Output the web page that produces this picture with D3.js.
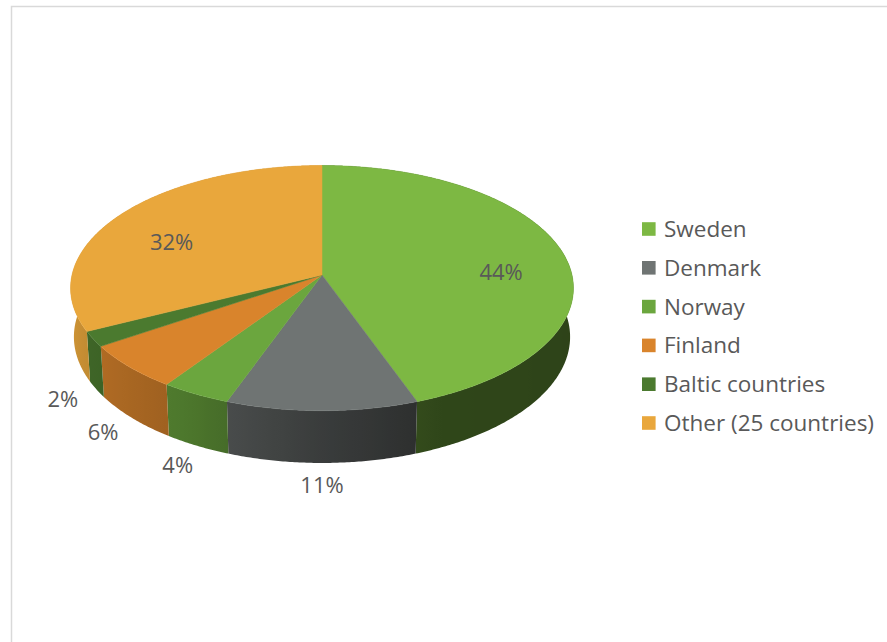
<!DOCTYPE html>
<html>
<head>
<meta charset="utf-8">
<script src="https://cdn.jsdelivr.net/npm/d3@7"></script>
<style>
  html, body { margin: 0; padding: 0; background: #fff; }
  svg { display: block; }
  text { font-family: "Open Sans", "Noto Sans", sans-serif; fill: #595959; }
</style>
</head>
<body>
<script>
// Share of exports by destination, in percent
const categories = ["Sweden", "Denmark", "Norway", "Finland", "Baltic countries", "Other (25 countries)"];
const shares = [44, 11, 4, 6, 2, 32];
const shareLabels = ["44%", "11%", "4%", "6%", "2%", "32%"];
const topColors = ["#7db843", "#6f7473", "#6ba63e", "#d9842c", "#4b7a2f", "#e9a73c"];
// labels of the two large slices sit on the top face, the rest outside the rim
const labelInside = [true, false, false, false, false, true];

const W = 887, H = 642;
const svg = d3.select("body").append("svg").attr("width", W).attr("height", H);
const defs = svg.append("defs");

// chart frame
svg.append("rect")
  .attr("x", 11.5).attr("y", 6.5)
  .attr("width", W + 20).attr("height", H + 20)
  .attr("fill", "none").attr("stroke", "#d9d9d9").attr("stroke-width", 1.5);

// perspective camera for a unit-radius disc of height `thick`
const cam = { cx: 322, cy: 275, f: 2050, d0: 8.2, tilt: 29 * Math.PI / 180, thick: 0.225 };
const sT = Math.sin(cam.tilt), cT = Math.cos(cam.tilt);
function project(r, theta, h) {
  const X = r * Math.sin(theta), Z = -r * Math.cos(theta);
  const up = -h * cT + Z * sT;
  const depth = cam.d0 - h * sT - Z * cT;
  return [cam.cx + cam.f * X / depth, cam.cy + cam.f * up / depth, depth];
}

const arcs = d3.pie().sort(null).value(d => d)(shares);

// side walls get darker toward the right-hand side
const shade = d3.scaleLinear()
  .domain([90, 155, 180, 210, 270])
  .range([0.36, 0.38, 0.52, 0.72, 0.93])
  .clamp(true);
function scaleColor(c, k) {
  const col = d3.rgb(c);
  return d3.rgb(col.r * k, col.g * k, col.b * k).formatHex();
}

const deg = Math.PI / 180;
const step = Math.PI / 360;
const line = d3.line();
const rimX0 = project(1, 264 * deg, 0)[0], rimX1 = project(1, 96 * deg, 0)[0];

function arcPoints(r, a0, a1, h) {
  const n = Math.max(2, Math.ceil((a1 - a0) / step));
  return d3.range(n + 1).map(j => project(r, a0 + (a1 - a0) * j / n, h));
}

// side walls: one band per slice, shaded with a horizontal gradient
const sides = svg.append("g");
arcs.forEach((a, i) => {
  const id = "side" + i;
  const g = defs.append("linearGradient").attr("id", id)
    .attr("gradientUnits", "userSpaceOnUse")
    .attr("x1", rimX0).attr("x2", rimX1).attr("y1", 0).attr("y2", 0);
  const lo = Math.max(a.startAngle, 96 * deg), hi = Math.min(a.endAngle, 264 * deg);
  const stops = [];
  if (hi > lo) {
    for (let t = hi; t >= lo - 1e-9; t -= 2 * deg) stops.push(t);
    if (stops[stops.length - 1] > lo) stops.push(lo);
  } else {
    stops.push((a.startAngle + a.endAngle) / 2);
  }
  stops.forEach(t => {
    const x = project(1, t, 0)[0];
    g.append("stop")
      .attr("offset", Math.min(1, Math.max(0, (x - rimX0) / (rimX1 - rimX0))))
      .attr("stop-color", scaleColor(topColors[i], shade(t / deg)));
  });
  const top = arcPoints(1, a.startAngle, a.endAngle, 0);
  const bottom = arcPoints(1, a.startAngle, a.endAngle, -cam.thick).reverse();
  sides.append("path")
    .attr("d", line(top.concat(bottom).map(p => [p[0], p[1]])) + "Z")
    .attr("fill", `url(#${id})`);
});

// top faces
svg.append("g").selectAll("path").data(arcs).join("path")
  .attr("d", a => {
    const pts = [project(0, 0, 0)].concat(arcPoints(1, a.startAngle, a.endAngle, 0));
    return line(pts.map(p => [p[0], p[1]])) + "Z";
  })
  .attr("fill", (a, i) => topColors[i])
  .attr("stroke", (a, i) => topColors[i])
  .attr("stroke-width", 0.5);

// percentage labels
svg.append("g").selectAll("text").data(arcs).join("text")
  .attr("text-anchor", "middle")
  .attr("font-size", 22)
  .attr("transform", (a, i) => {
    const mid = (a.startAngle + a.endAngle) / 2;
    const p = labelInside[i] ? project(0.74, mid, -0.06) : project(1.14, mid, -cam.thick);
    return `translate(${p[0]},${p[1] + 7.8})`;
  })
  .text((a, i) => shareLabels[i]);

// legend
const legend = svg.append("g").attr("transform", "translate(642,229)");
const rows = legend.selectAll("g").data(categories).join("g")
  .attr("transform", (d, i) => `translate(0,${i * 38.8})`);
rows.append("rect")
  .attr("x", 0).attr("y", -6.8).attr("width", 13.6).attr("height", 13.6)
  .attr("fill", (d, i) => topColors[i]);
rows.append("text")
  .attr("x", 22).attr("y", 8)
  .attr("font-size", 22.5)
  .text(d => d);
</script>
</body>
</html>
